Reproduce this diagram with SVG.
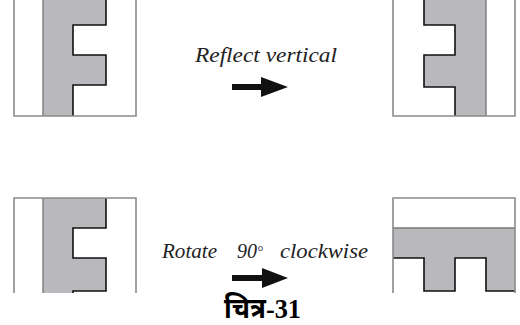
<svg xmlns="http://www.w3.org/2000/svg" width="520" height="325" viewBox="0 0 520 325">
<style>
.frame{fill:none;stroke:#8a8a8a;stroke-width:1.6}
.fill{fill:#b9b9bd;stroke:none}
.edge{fill:none;stroke:#7a7a7a;stroke-width:1.4}
.prof{fill:none;stroke:#111;stroke-width:1.6}
.lbl{font-family:"Liberation Serif",serif;font-style:italic;font-size:20px;fill:#222}
.ttl{font-family:"Liberation Serif","Noto Sans",serif;font-weight:bold;font-size:28px;fill:#000}
.arr{fill:#111}
</style>
<rect width="520" height="325" fill="#fff"/>
<g id="panel-top-left">
<polygon class="fill" points="43,0 106,0 106,25 73,25 73,55 106,55 106,85 73,85 73,116 43,116"/>
<line class="edge" x1="43" y1="0" x2="43" y2="116"/>
<path class="prof" d="M106,0 V25 H73 V55 H106 V85 H73 V116"/>
<path class="frame" d="M14,0 V116 H136 V0"/>
</g>
<g id="panel-top-right">
<polygon class="fill" points="486,0 424,0 424,25 455,25 455,55 424,55 424,87 455,87 455,116 486,116"/>
<line class="edge" x1="486" y1="0" x2="486" y2="116"/>
<path class="prof" d="M424,0 V25 H455 V55 H424 V87 H455 V116"/>
<path class="frame" d="M393,0 V116 H515 V0"/>
</g>
<g id="panel-bottom-left">
<polygon class="fill" points="43,198 106,198 106,228 73,228 73,258 106,258 106,291 73,291 73,293 43,293"/>
<line class="edge" x1="43" y1="198" x2="43" y2="293"/>
<path class="prof" d="M106,198 V228 H73 V258 H106 V291 H73 V293"/>
<path class="frame" d="M14,293 V198 H136 V293"/>
</g>
<g id="panel-bottom-right">
<polygon class="fill" points="393,228 515,228 515,291 486,291 486,258 455,258 455,291 424,291 424,258 393,258"/>
<line class="edge" x1="393" y1="228" x2="515" y2="228"/>
<path class="prof" d="M393,258 H424 V291 H455 V258 H486 V291 H515"/>
<path class="frame" d="M393,293 V198 H515 V293"/>
</g>
<g id="label-reflect">
<text class="lbl" x="195" y="62" textLength="142" lengthAdjust="spacingAndGlyphs">Reflect vertical</text>
</g>
<g id="label-rotate">
<text class="lbl"><tspan x="162" y="258" textLength="55" lengthAdjust="spacingAndGlyphs">Rotate</tspan><tspan x="237" y="258">90</tspan><tspan x="257" y="256" font-size="15">°</tspan><tspan x="280" y="258" textLength="88" lengthAdjust="spacingAndGlyphs">clockwise</tspan></text>
</g>
<g id="connectors">
<polygon class="arr" points="232,84 261,84 261,77 288,87 261,97 261,90 232,90"/>
<polygon class="arr" points="232,275 262,275 262,268 288,278 262,288 262,281 232,281"/>
</g>
<g id="title">
<text class="ttl" x="224" y="318" textLength="77" lengthAdjust="spacingAndGlyphs">चित्र-31</text>
</g>
</svg>
